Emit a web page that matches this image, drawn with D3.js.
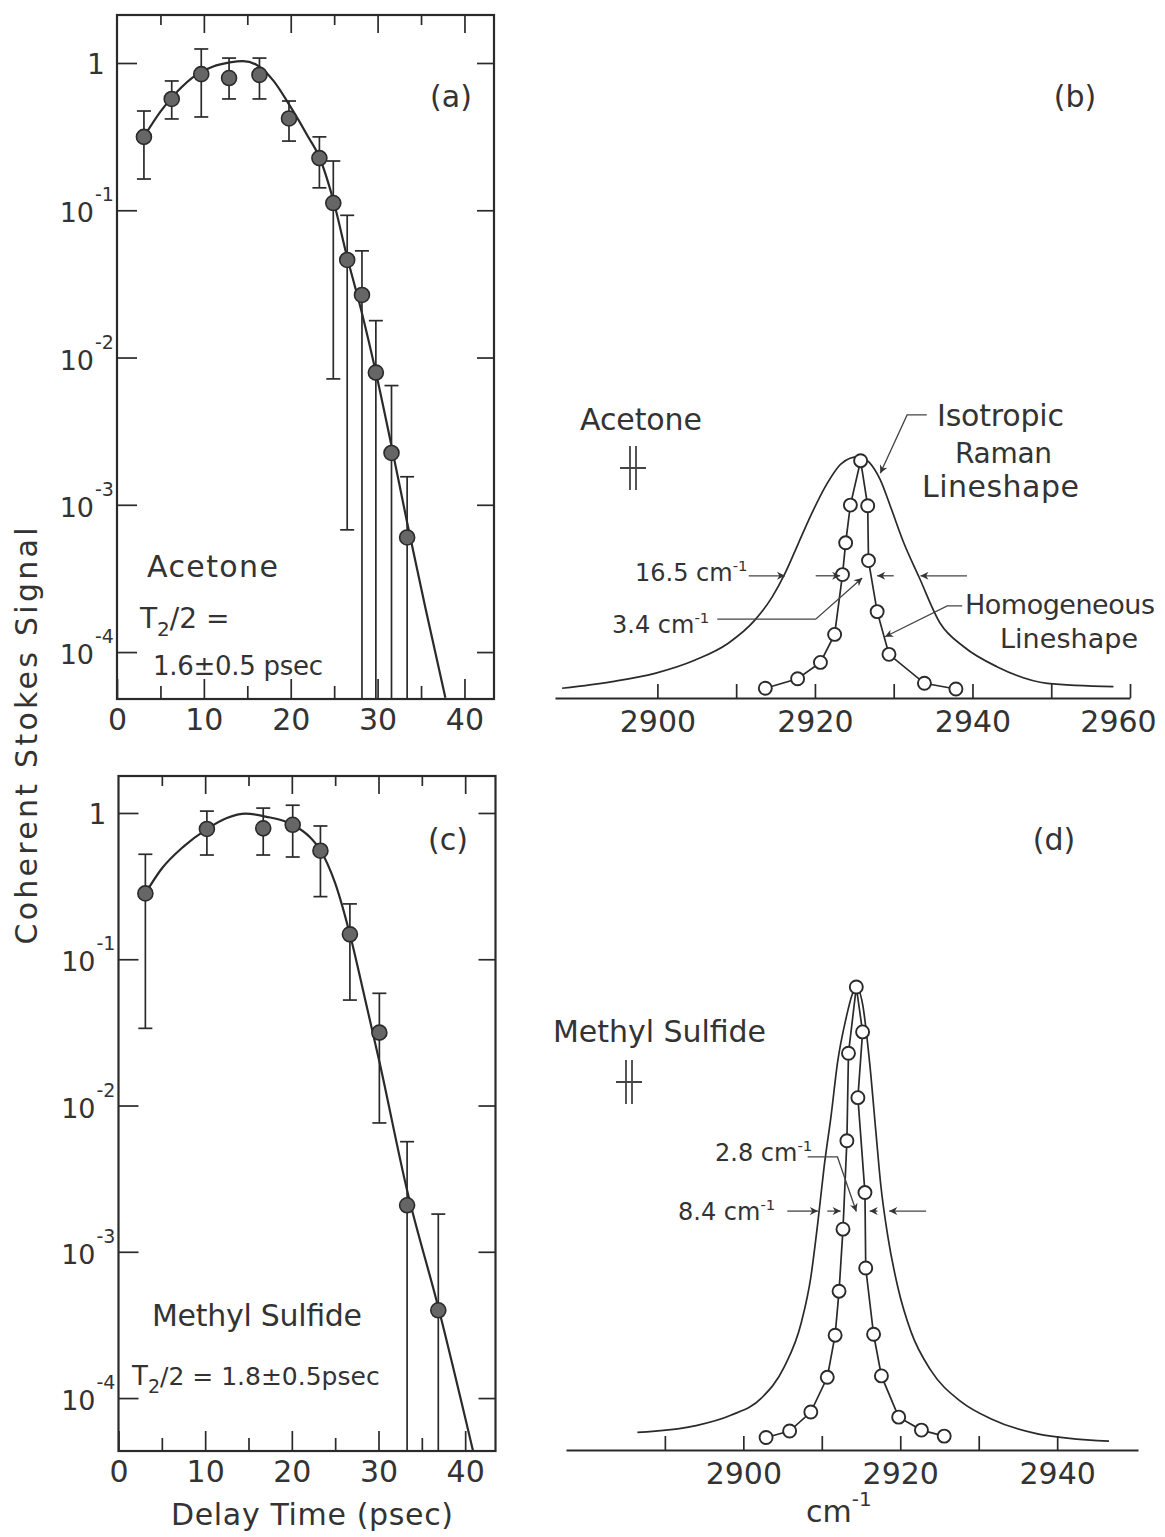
<!DOCTYPE html>
<html>
<head>
<meta charset="utf-8">
<script src="https://cdn.jsdelivr.net/npm/d3@7"></script>
<style>
    body { margin: 0; background: #fff; }
    svg { display: block; }
    text { font-family: "DejaVu Sans", "Liberation Sans", sans-serif; fill: #333; }
    .box path.domain { display: none; }
    .box line, .spec line { stroke: #2a2a2a; stroke-width: 1.7; }
    .spec path.domain { stroke: #2a2a2a; stroke-width: 2; }
    .ticklab text, .spec text { font-size: 30px; }
    .frame { fill: none; stroke: #2a2a2a; stroke-width: 2.2; }
    .fit { fill: none; stroke: #2a2a2a; stroke-width: 2.2; }
    .errbar line { stroke: #2a2a2a; stroke-width: 1.7; }
    .dot { fill: #666; stroke: #2a2a2a; stroke-width: 1.6; }
    .trace { fill: none; stroke: #2a2a2a; stroke-width: 1.7; }
    .homog { fill: none; stroke: #2a2a2a; stroke-width: 1.7; }
    .ring { fill: #fff; stroke: #2a2a2a; stroke-width: 1.9; }
    .lead { fill: none; stroke: #444; stroke-width: 1.3; }
</style>
</head>
<body>
<svg id="fig" width="1165" height="1537"></svg>
<script>
// (a) acetone: coherent Stokes signal vs delay time (psec)
var delayA = [3.1, 6.3, 9.7, 12.9, 16.4, 19.8, 23.3, 24.9, 26.5, 28.2, 29.8, 31.6, 33.4];
var signalA = [0.315, 0.57, 0.84, 0.79, 0.83, 0.42, 0.226, 0.112, 0.046, 0.0266, 0.0079, 0.00225, 0.0006];
var errHiA = [0.472, 0.755, 1.245, 1.08, 1.08, 0.552, 0.315, 0.216, 0.0924, 0.053, 0.0178, 0.00645, 0.00155];
var errLoA = [0.163, 0.417, 0.43, 0.57, 0.57, 0.295, 0.142, 0.00716, 0.000676, 0, 0, 0, 0]; // 0 = bar runs to the axis
var fitDelayA = [3.1, 5, 7, 9, 11, 13, 14.5, 16, 18, 20, 22, 23.3, 24.9, 26.5, 28.2, 29.8, 31.6, 33.4, 35.5, 37.8];
var fitSignalA = [0.316, 0.468, 0.646, 0.822, 0.944, 1.01, 1.03, 0.977, 0.759, 0.501, 0.316, 0.229, 0.117, 0.0479, 0.02, 0.00794, 0.00251, 0.000759, 0.0002, 0.000049];

// (c) methyl sulfide
var delayC = [3.1, 10.2, 16.7, 20.1, 23.3, 26.7, 30.1, 33.3, 36.9];
var signalC = [0.282, 0.778, 0.785, 0.83, 0.552, 0.148, 0.0315, 0.00208, 0.000398];
var errHiC = [0.522, 1.03, 1.08, 1.13, 0.815, 0.239, 0.0585, 0.00566, 0.00181];
var errLoC = [0.0337, 0.516, 0.516, 0.50, 0.268, 0.0526, 0.0076, 0, 0];
var fitDelayC = [3.1, 5, 7.5, 10.2, 12.5, 14.7, 17, 20.1, 22, 23.3, 25, 26.7, 28.4, 30.1, 33.3, 36.9, 40.9];
var fitSignalC = [0.282, 0.417, 0.589, 0.776, 0.923, 0.989, 0.944, 0.832, 0.692, 0.556, 0.331, 0.148, 0.055, 0.02, 0.00263, 0.000417, 0.0000437];

var decades = [1, 1e-1, 1e-2, 1e-3, 1e-4];
var decadeExp = ["", "-1", "-2", "-3", "-4"];

// (b) acetone spectra, cm-1 vs relative intensity
var isoWaveB = [2887.9, 2894.3, 2899.7, 2904.8, 2909.0, 2912.4, 2914.6, 2916.2, 2917.9, 2919.6, 2921.3, 2923.4, 2925.5, 2928.3, 2929.6, 2931.3, 2933.2, 2935.9, 2938.9, 2943.1, 2949.5, 2957.9];
var isoB = [0.041, 0.069, 0.104, 0.160, 0.231, 0.329, 0.427, 0.525, 0.652, 0.778, 0.890, 0.989, 1.017, 0.919, 0.806, 0.652, 0.511, 0.315, 0.216, 0.132, 0.062, 0.048];
var homWaveB = [2913.7, 2917.8, 2920.7, 2922.5, 2923.5, 2923.9, 2924.5, 2925.8, 2926.7, 2926.8, 2927.9, 2929.4, 2933.9, 2937.9];
var homB = [0.041, 0.081, 0.150, 0.268, 0.520, 0.654, 0.813, 1.0, 0.810, 0.579, 0.364, 0.184, 0.062, 0.038];
var ticksB = [2900, 2910, 2920, 2930, 2940, 2950, 2960];

// (d) methyl sulfide spectra
var isoWaveD = [2886.5, 2893.8, 2898.4, 2902.3, 2905.2, 2907.4, 2908.6, 2909.5, 2910.3, 2911.2, 2912.0, 2913.1, 2913.9, 2914.4, 2915.2, 2916.1, 2916.9, 2917.5, 2918.4, 2919.7, 2921.4, 2923.9, 2927.7, 2931.6, 2937.5, 2946.6];
var isoD = [0.038, 0.052, 0.075, 0.112, 0.179, 0.276, 0.373, 0.492, 0.612, 0.724, 0.836, 0.933, 0.985, 1.0, 0.963, 0.836, 0.686, 0.575, 0.463, 0.351, 0.254, 0.172, 0.105, 0.067, 0.035, 0.019];
var homWaveD = [2902.9, 2905.9, 2908.6, 2910.7, 2911.7, 2912.2, 2912.7, 2913.2, 2913.4, 2914.4, 2915.2, 2914.6, 2915.5, 2915.6, 2916.6, 2917.6, 2919.8, 2922.7, 2925.6];
var homD = [0.027, 0.041, 0.082, 0.157, 0.248, 0.343, 0.477, 0.668, 0.857, 1.0, 0.903, 0.761, 0.556, 0.393, 0.250, 0.160, 0.071, 0.043, 0.030];
var ticksD = [2890, 2900, 2910, 2920, 2930, 2940];

// linewidth arrows [from, to] at half height, and leader lines [cm-1, intensity]
var halfB = 0.515;
var arrowsB = [[2911.6, 2916.2], [2920.1, 2923.2], [2930.0, 2927.9], [2939.3, 2933.4]];
var lead34 = [[2907.6, 0.332], [2920.1, 0.332], [2926.0, 0.506]];
var leadIso = [[2934.2, 1.193], [2931.7, 1.193], [2928.3, 0.947]];
var leadHom = [[2938.7, 0.388], [2936.8, 0.388], [2928.9, 0.258]];
var halfD = 0.516;
var arrowsD = [[2905.6, 2909.5], [2910.7, 2912.4], [2917.1, 2916.1], [2923.3, 2918.6]];
var lead28 = [[2908.2, 0.633], [2912.0, 0.633], [2914.4, 0.515]];

var svg = d3.select("#fig");
svg.append("rect").attr("width", 1165).attr("height", 1537).attr("fill", "#fff");
svg.append("defs").append("marker")
        .attr("id", "arr")
        .attr("viewBox", "0 0 10 10")
        .attr("refX", 10).attr("refY", 5)
        .attr("markerUnits", "userSpaceOnUse")
        .attr("markerWidth", 11).attr("markerHeight", 8)
        .attr("orient", "auto")
        .append("path")
        .attr("d", "M0,0 L10,5 L0,10 L3,5 z")
        .attr("fill", "#333");

function txt(g, x, y, str, size, anchor, len) {
    var t = g.append("text")
            .attr("x", x).attr("y", y)
            .attr("text-anchor", anchor || "start")
            .style("font-size", size + "px")
            .text(str);
    if (len) {
        t.attr("textLength", len).attr("lengthAdjust", "spacing");
    }
    return t;
}
// "12.3 cm" with a small raised -1
function cmLabel(g, x, y, num, size) {
    var t = txt(g, x, y, num + "cm", size);
    t.append("tspan").attr("dy", -size * 0.42).style("font-size", (size * 0.62) + "px").text("-1");
    return t;
}

function drawDecay(x, y, delay, sig, hi, lo, fitT, fitS) {
    var g = svg.append("g");
    var x0 = x.range()[0], x1 = x.range()[1];
    var yb = y.range()[0], yt = y.range()[1];
    g.append("g").attr("class", "box").attr("transform", "translate(0," + yb + ")")
            .call(d3.axisBottom(x).tickValues([5, 15, 25, 35]).tickSize(-13).tickSizeOuter(0).tickFormat(""));
    g.append("g").attr("class", "box ticklab").attr("transform", "translate(0," + yb + ")")
            .call(d3.axisBottom(x).tickValues([0, 10, 20, 30, 40]).tickSize(-20).tickSizeOuter(0).tickPadding(10).tickFormat(d3.format("d")));
    g.append("g").attr("class", "box").attr("transform", "translate(0," + yt + ")")
            .call(d3.axisTop(x).tickValues([5, 15, 25, 35]).tickSize(-10).tickSizeOuter(0).tickFormat(""));
    g.append("g").attr("class", "box").attr("transform", "translate(0," + yt + ")")
            .call(d3.axisTop(x).tickValues([10, 20, 30, 40]).tickSize(-18).tickSizeOuter(0).tickFormat(""));
    g.append("g").attr("class", "box").attr("transform", "translate(" + x0 + ",0)")
            .call(d3.axisLeft(y).tickValues(decades).tickSize(-20).tickSizeOuter(0).tickFormat(""));
    g.append("g").attr("class", "box").attr("transform", "translate(" + x1 + ",0)")
            .call(d3.axisRight(y).tickValues(decades).tickSize(-17).tickSizeOuter(0).tickFormat(""));
    g.append("rect").attr("class", "frame")
            .attr("x", x0).attr("y", yt)
            .attr("width", x1 - x0).attr("height", yb - yt);
    for (var i = 0; i < decades.length; i++) {
        if (i == 0) {
            txt(g, x0 - 21, y(decades[i]) + 11, "1", 28, "middle");
        } else {
            txt(g, x0 - 23, y(decades[i]) + 12, "10", 27, "end");
            txt(g, x0 - 22, y(decades[i]) - 9, decadeExp[i], 19, "start");
        }
    }

    var pts = delay.map(function (t, i) {
        return {t: t, s: sig[i], hi: hi[i], lo: lo[i]};
    });
    var bars = g.selectAll(".errbar").data(pts).enter().append("g").attr("class", "errbar");
    bars.append("line")
            .attr("x1", function (d) { return x(d.t); })
            .attr("x2", function (d) { return x(d.t); })
            .attr("y1", function (d) { return y(d.hi); })
            .attr("y2", function (d) { return d.lo > 0 ? y(d.lo) : yb; });
    bars.append("line")
            .attr("x1", function (d) { return x(d.t) - 7; })
            .attr("x2", function (d) { return x(d.t) + 7; })
            .attr("y1", function (d) { return y(d.hi); })
            .attr("y2", function (d) { return y(d.hi); });
    bars.filter(function (d) { return d.lo > 0; }).append("line")
            .attr("x1", function (d) { return x(d.t) - 7; })
            .attr("x2", function (d) { return x(d.t) + 7; })
            .attr("y1", function (d) { return y(d.lo); })
            .attr("y2", function (d) { return y(d.lo); });

    var fit = fitT.map(function (t, i) { return [t, fitS[i]]; });
    var line = d3.line()
            .x(function (d) { return x(d[0]); })
            .y(function (d) { return y(d[1]); })
            .curve(d3.curveMonotoneX);
    g.append("path").datum(fit).attr("class", "fit").attr("d", line);

    g.selectAll(".dot").data(pts).enter().append("circle")
            .attr("class", "dot")
            .attr("cx", function (d) { return x(d.t); })
            .attr("cy", function (d) { return y(d.s); })
            .attr("r", 7.5);
    return g;
}

function drawSpectrum(x, y, ticks, isoX, isoY, homX, homY) {
    var g = svg.append("g");
    var base = y.range()[0];
    var lastTick = ticks[ticks.length - 1];
    g.append("g").attr("class", "spec").attr("transform", "translate(0," + base + ")")
            .call(d3.axisBottom(x).tickValues(ticks).tickSize(-14).tickSizeOuter(0).tickPadding(13)
                    .tickFormat(function (d) { return d % 20 == 0 ? d : ""; }))
            .selectAll(".tick text")
            .attr("dx", function (d) { return d == lastTick && d == x.domain()[1] ? -12 : 0; });
    var iso = isoX.map(function (v, i) { return [v, isoY[i]]; });
    var hom = homX.map(function (v, i) { return [v, homY[i]]; });
    g.append("path").datum(iso).attr("class", "trace")
            .attr("d", d3.line().x(function (d) { return x(d[0]); }).y(function (d) { return y(d[1]); }).curve(d3.curveMonotoneX));
    g.append("path").datum(hom).attr("class", "homog")
            .attr("d", d3.line().x(function (d) { return x(d[0]); }).y(function (d) { return y(d[1]); }));
    g.selectAll(".ring").data(hom).enter().append("circle")
            .attr("class", "ring")
            .attr("cx", function (d) { return x(d[0]); })
            .attr("cy", function (d) { return y(d[1]); })
            .attr("r", 6.5);
    return g;
}

function halfArrows(g, x, y, pairs, level) {
    g.selectAll(".hw").data(pairs).enter().append("line")
            .attr("class", "lead")
            .attr("x1", function (d) { return x(d[0]); })
            .attr("x2", function (d) { return x(d[1]); })
            .attr("y1", y(level)).attr("y2", y(level))
            .attr("marker-end", "url(#arr)");
}
function leader(g, x, y, pts) {
    g.append("path").datum(pts).attr("class", "lead")
            .attr("d", d3.line().x(function (d) { return x(d[0]); }).y(function (d) { return y(d[1]); }))
            .attr("marker-end", "url(#arr)");
}
// resolution marker: two short bars with a cross stroke
function resMark(g, cx, cy) {
    g.append("path").attr("class", "lead").style("stroke-width", 1.8)
            .attr("d", "M" + (cx - 3) + "," + (cy - 22) + "V" + (cy + 22) +
                    "M" + (cx + 3) + "," + (cy - 22) + "V" + (cy + 22) +
                    "M" + (cx - 13) + "," + cy + "H" + (cx + 13));
}

// panel (a)
var xA = d3.scaleLinear().domain([0, 43.4]).range([117, 494]);
var yA = d3.scaleLog().domain([4.8e-5, 2.118]).range([699, 15]);
var gA = drawDecay(xA, yA, delayA, signalA, errHiA, errLoA, fitDelayA, fitSignalA);
txt(gA, 451, 107, "(a)", 30, "middle");
txt(gA, 147, 577, "Acetone", 30, "start", 131);
var t2a = txt(gA, 140, 628, "T", 28);
t2a.append("tspan").attr("dy", 8).style("font-size", "20px").text("2");
t2a.append("tspan").attr("dy", -8).text("/2 =");
txt(gA, 153, 675, "1.6\u00b10.5 psec", 26, "start", 170);

// panel (c)
var xC = d3.scaleLinear().domain([0, 43.5]).range([118.5, 495.5]);
var yC = d3.scaleLog().domain([4.345e-5, 1.79]).range([1451, 776]);
var gC = drawDecay(xC, yC, delayC, signalC, errHiC, errLoC, fitDelayC, fitSignalC);
txt(gC, 448, 850, "(c)", 30, "middle");
txt(gC, 152, 1326, "Methyl Sulfide", 30, "start", 210);
var t2c = txt(gC, 132, 1385, "T", 26);
t2c.append("tspan").attr("dy", 8).style("font-size", "19px").text("2");
t2c.append("tspan").attr("dy", -8).style("font-size", "25px").text("/2 = 1.8\u00b10.5psec");

// shared axis titles
txt(svg, 0, 0, "Coherent Stokes Signal", 30, "middle", 417)
        .attr("transform", "translate(37,736) rotate(-90)");
txt(svg, 312, 1525, "Delay Time (psec)", 30, "middle", 282);

// panel (b)
var xB = d3.scaleLinear().domain([2887, 2960]).range([555, 1130]);
var yB = d3.scaleLinear().domain([0, 1]).range([698, 460.7]);
var gB = drawSpectrum(xB, yB, ticksB, isoWaveB, isoB, homWaveB, homB);
halfArrows(gB, xB, yB, arrowsB, halfB);
leader(gB, xB, yB, lead34);
leader(gB, xB, yB, leadIso);
leader(gB, xB, yB, leadHom);
txt(gB, 1075, 107, "(b)", 30, "middle");
txt(gB, 580, 430, "Acetone", 30, "start", 122);
resMark(gB, 633, 468);
cmLabel(gB, 635, 581, "16.5 ", 24);
cmLabel(gB, 612, 633, "3.4 ", 24);
txt(gB, 937, 426, "Isotropic", 30, "start", 127);
txt(gB, 955, 463, "Raman", 28, "start", 97);
txt(gB, 922, 497, "Lineshape", 30, "start", 157);
txt(gB, 965, 614, "Homogeneous", 27, "start", 190);
txt(gB, 1000, 648, "Lineshape", 27, "start", 138);

// panel (d)
var xD = d3.scaleLinear().domain([2877.4, 2950.3]).range([566, 1138]);
var yD = d3.scaleLinear().domain([0, 1]).range([1450, 987]);
var gD = drawSpectrum(xD, yD, ticksD, isoWaveD, isoD, homWaveD, homD);
halfArrows(gD, xD, yD, arrowsD, halfD);
leader(gD, xD, yD, lead28);
txt(gD, 1054, 850, "(d)", 30, "middle");
txt(gD, 553, 1042, "Methyl Sulfide", 30, "start", 213);
resMark(gD, 629, 1082);
cmLabel(gD, 715, 1161, "2.8 ", 24);
cmLabel(gD, 678, 1220, "8.4  ", 24);
var cmx = txt(gD, 806, 1522, "cm", 30);
cmx.append("tspan").attr("dy", -16).style("font-size", "20px").text("-1");
</script>
</body>
</html>
